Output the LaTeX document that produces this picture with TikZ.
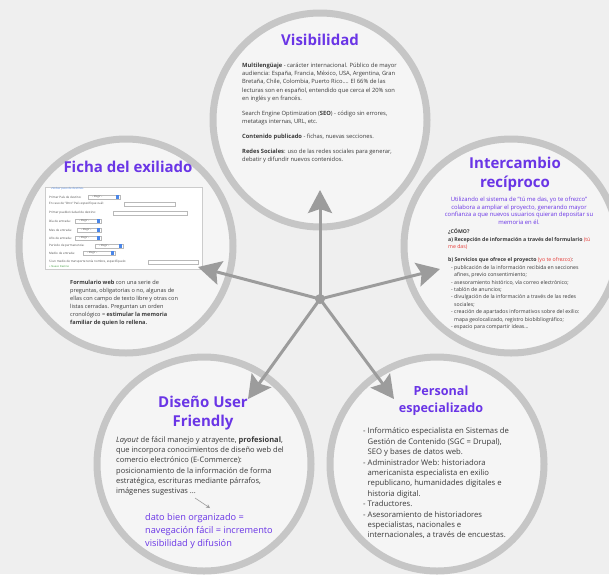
\documentclass[tikz,border=0pt]{standalone}
\usepackage{fontspec}
\setmainfont{Open Sans}
\usetikzlibrary{arrows.meta}

\definecolor{bggray}{HTML}{EFEFEF}
\definecolor{circfill}{HTML}{F5F5F5}
\definecolor{ringgray}{HTML}{C6C6C6}
\definecolor{arrowgray}{HTML}{9C9C9C}
\definecolor{titlepurple}{HTML}{6A35E6}
\definecolor{bodytxt}{HTML}{3A3A3A}
\definecolor{redtxt}{HTML}{E53935}
\definecolor{ddblue}{HTML}{4A86E8}
\definecolor{linkgreen}{HTML}{3C9A3C}

\tikzset{
  ring/.style={circle, draw=ringgray, line width=7pt, fill=circfill, minimum size=214pt, inner sep=0pt},
  ttl/.style={text=titlepurple, font=\fontsize{15}{19.3}\selectfont\bfseries, align=center, inner sep=0pt},
  body/.style={text=bodytxt, align=left, inner sep=0pt, anchor=north west},
  formtxt/.style={text=gray!60!black, font=\fontsize{3}{3.5}\selectfont, inner sep=0pt, anchor=west},
  formbox/.style={draw=gray!55, line width=0.3pt, fill=white},
  bigarrow/.style={draw=arrowgray, line width=3pt, -{Stealth[length=23pt,width=24pt,inset=4pt]}},
  smallarrow/.style={draw=arrowgray, line width=0.6pt, -{Stealth[length=4pt,width=4pt]}}
}

\begin{document}
\begin{tikzpicture}[x=1pt,y=-1pt]
\useasboundingbox (0,0) rectangle (609,574);
\clip (0,0) rectangle (609,574);
\fill[bggray] (0,0) rectangle (609,574);

% the five circles
\node[ring] (vis) at (320,120) {};
\node[ring] (ficha) at (126,246) {};
\node[ring] (inter) at (511,246) {};
\node[ring] (diseno) at (204,464) {};
\node[ring] (personal) at (437,464) {};

% Visibilidad
\node[ttl] (visttl) at (320,40) {Visibilidad};
\node[body, font=\fontsize{5.8}{8.3}\selectfont] (vistxt) at (242,62.6) {%
\textbf{Multilengüaje} - carácter internacional. Público de mayor\\
audiencia: España, Francia, México, USA, Argentina, Gran\\
Bretaña, Chile, Colombia, Puerto Rico.... El 66\% de las\\
lecturas son en español, entendido que cerca el 20\% son\\
en inglés y en francés.\\[6.5pt]
Search Engine Optimization (\textbf{SEO}) - código sin errores,\\
metatags internas, URL, etc.\\[6.5pt]
\textbf{Contenido publicado} - fichas, nuevas secciones.\\[6.5pt]
\textbf{Redes Sociales}: uso de las redes sociales para generar,\\
debatir y difundir nuevos contenidos.};

% Ficha del exiliado
\node[ttl] (fichattl) at (128,167) {Ficha del exiliado};
\node[formbox, draw=gray!40, line width=0.8pt, minimum width=157pt, minimum height=82pt, anchor=north west] (form) at (45,187) {};
\node[formtxt, text=ddblue, font=\fontsize{2.8}{3}\selectfont] (formhead) at (51,189) {«Volver paso de destino»};
\foreach \yy/\lbl [count=\i] in {197/{Primer País de destino:}, 204/{En caso de "Otro" País especifique cuál:},
    213/{Primer pueblo/ciudad de destino:}, 221/{Día de entrada:}, 230/{Mes de entrada:},
    238/{Año de entrada:}, 246/{Periodo de permanencia:}, 253/{Medio de entrada:},
    262/{Si un medio de transporte tenía nombre, especifíquelo:}}
  \node[formtxt] (row\i) at (49,\yy) {\lbl};
\foreach \yy/\xa/\xb [count=\i] in {197/88/120, 221/75/101, 230/77/101, 238/75/101, 246/95/123, 253/83/115}{
  \draw[formbox] (\xa,\yy-2.3) rectangle (\xb,\yy+2.3);
  \fill[ddblue] (\xb-3.6,\yy-1.7) rectangle (\xb-0.7,\yy+1.7);
  \node[formtxt, font=\fontsize{2.5}{3}\selectfont] (dd\i) at (\xa+4,\yy) {-- Elegir --};
}
\foreach \yy/\xa/\xb in {204/124/175, 213/113/187, 262/148/198}
  \draw[formbox] (\xa,\yy-2.3) rectangle (\xb,\yy+2.3);
\node[formtxt, text=linkgreen, font=\fontsize{2.6}{3}\selectfont] (newdest) at (49,267) {+ Nuevo Destino};
\node[body, font=\fontsize{5.6}{8.1}\selectfont] (fichatxt) at (70,280) {%
\textbf{Formulario web} con una serie de\\
preguntas, obligatorias o no, algunas de\\
ellas con campo de texto libre y otras con\\
listas cerradas. Preguntan un orden\\
cronológico = \textbf{estimular la memoria}\\
\textbf{familiar de quien lo rellena.}};

% Intercambio reciproco
\node[ttl] (interttl) at (515,174) {Intercambio\\recíproco};
\node[text=titlepurple, align=center, inner sep=0pt, anchor=north, font=\fontsize{5.9}{7.5}\selectfont] (interlema) at (519,196.8) {%
Utilizando el sistema de "tú me das, yo te ofrezco"\\
colabora a ampliar el proyecto, generando mayor\\
confianza a que nuevos usuarios quieran depositar su\\
memoria en él.};
\node[body, font=\fontsize{5.2}{7.4}\selectfont] (intertxt) at (448,228.7) {%
\textbf{¿CÓMO?}\\
\textbf{a) Recepción de información a través del formulario} \textcolor{redtxt}{(tú}\\
\textcolor{redtxt}{me das)}\\[6pt]
\textbf{b) Servicios que ofrece el proyecto} \textcolor{redtxt}{(yo te ofrezco)}:\\
\hspace*{3pt}- publicación de la información recibida en secciones\\
\hspace*{3pt}\phantom{- }afines, previo consentimiento;\\
\hspace*{3pt}- asesoramiento histórico, vía correo electrónico;\\
\hspace*{3pt}- tablón de anuncios;\\
\hspace*{3pt}- divulgación de la información a través de las redes\\
\hspace*{3pt}\phantom{- }sociales;\\
\hspace*{3pt}- creación de apartados informativos sobre del exilio:\\
\hspace*{3pt}\phantom{- }mapa geolocalizado, registro biobibliográfico;\\
\hspace*{3pt}- espacio para compartir ideas...};

% Diseno User Friendly
\node[ttl] (disenottl) at (203,413) {Diseño User\\Friendly};
\node[body, font=\fontsize{7.5}{10.3}\selectfont] (disenotxt) at (116,436.2) {%
\textit{Layout} de fácil manejo y atrayente, \textbf{profesional},\\
que incorpora conocimientos de diseño web del\\
comercio electrónico (E-Commerce):\\
posicionamiento de la información de forma\\
estratégica, escrituras mediante párrafos,\\
imágenes sugestivas ...};
\coordinate (hinta) at (195,498);
\coordinate (hintb) at (210,508);
\draw[smallarrow] (hinta) -- (hintb);
\node[body, text=titlepurple, font=\fontsize{9.2}{13}\selectfont] (disenolema) at (145,512.9) {%
dato bien organizado =\\
navegación fácil = incremento\\
visibilidad y difusión};

% Personal especializado
\node[ttl, font=\fontsize{12.6}{16.6}\selectfont\bfseries] (personalttl) at (441,401) {Personal\\especializado};
\node[body, font=\fontsize{7.7}{10.4}\selectfont] (personaltxt) at (363,427.8) {%
- Informático especialista en Sistemas de\\
\phantom{- }Gestión de Contenido (SGC = Drupal),\\
\phantom{- }SEO y bases de datos web.\\
- Administrador Web: historiadora\\
\phantom{- }americanista especialista en exilio\\
\phantom{- }republicano, humanidades digitales e\\
\phantom{- }historia digital.\\
- Traductores.\\
- Asesoramiento de historiadores\\
\phantom{- }especialistas, nacionales e\\
\phantom{- }internacionales, a través de encuestas.};

% arrows from the hub
\node[circle, fill=arrowgray, minimum size=10pt, inner sep=0pt] (hub) at (320,299) {};
\coordinate (tipvis) at (320,190);
\coordinate (tipficha) at (198,267);
\coordinate (tipinter) at (440,269);
\coordinate (tipdiseno) at (248,399);
\coordinate (tippersonal) at (394,399);
\foreach \t in {tipvis,tipficha,tipinter,tipdiseno,tippersonal}
  \draw[bigarrow] (hub.center) -- (\t);

\end{tikzpicture}
\end{document}
